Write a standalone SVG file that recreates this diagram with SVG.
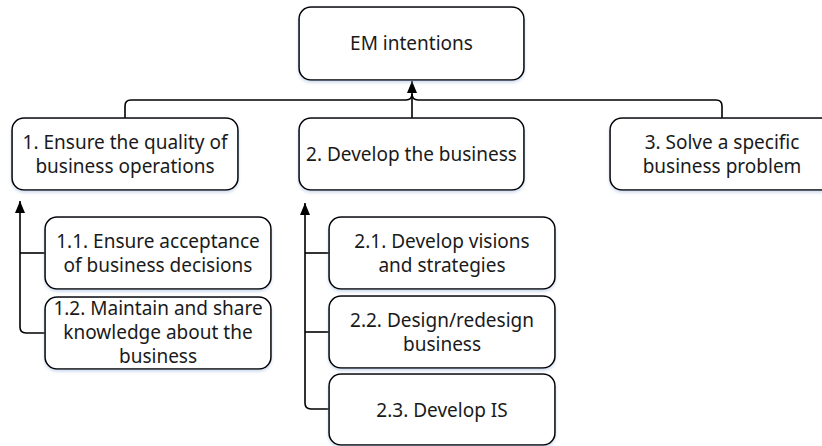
<svg xmlns="http://www.w3.org/2000/svg" width="822" height="446" viewBox="0 0 822 446">
<defs>
<filter id="sh" x="-10%" y="-10%" width="120%" height="130%">
<feDropShadow dx="0" dy="2" stdDeviation="1.5" flood-color="#9ab4d8" flood-opacity="0.45"/>
</filter>
<marker id="ah" viewBox="0 0 12 10" refX="12" refY="5" markerWidth="12" markerHeight="10" markerUnits="userSpaceOnUse" orient="auto">
<path d="M0,0 L12,5 L0,10 Z" fill="#000"/>
</marker>
</defs>
<style>
.box{fill:#fff;stroke:#000;stroke-width:1.6;filter:url(#sh)}
.t{font-family:"Noto Sans","Open Sans","DejaVu Sans",sans-serif;font-size:19px;fill:#1a1a1a;text-anchor:middle}
.c{fill:none;stroke:#000;stroke-width:1.6}
</style>
<rect width="822" height="446" fill="#fff"/>
<g id="connectors">
<path class="c" d="M125,118 V106 Q125,100 131,100 H406 Q412,100 412,94"/>
<path class="c" d="M722,118 V106 Q722,100 716,100 H418 Q412,100 412,94"/>
<path class="c" d="M412,118 V81" marker-end="url(#ah)"/>
<path class="c" d="M45,333 H26 Q20,333 20,327 V201" marker-end="url(#ah)"/>
<path class="c" d="M45,253 H20"/>
<path class="c" d="M329,409 H311 Q305,409 305,403 V203" marker-end="url(#ah)"/>
<path class="c" d="M329,253 H305"/>
<path class="c" d="M329,332 H305"/>
</g>
<g id="n0"><rect class="box" x="299" y="7" width="225" height="73" rx="12"/><text class="t" x="411.5" y="50">EM intentions</text></g>
<g id="n1"><rect class="box" x="12" y="118" width="226" height="72" rx="12"/><text class="t" x="125" y="149">1. Ensure the quality of</text><text class="t" x="125" y="173">business operations</text></g>
<g id="n2"><rect class="box" x="299" y="118" width="225" height="72" rx="12"/><text class="t" x="411.5" y="161">2. Develop the business</text></g>
<g id="n3"><rect class="box" x="610" y="118" width="225" height="72" rx="12"/><text class="t" x="722" y="149">3. Solve a specific</text><text class="t" x="722" y="173">business problem</text></g>
<g id="n11"><rect class="box" x="45" y="217" width="226" height="72" rx="12"/><text class="t" x="158" y="248">1.1. Ensure acceptance</text><text class="t" x="158" y="272">of business decisions</text></g>
<g id="n12"><rect class="box" x="45" y="297" width="226" height="72" rx="12"/><text class="t" x="158" y="315">1.2. Maintain and share</text><text class="t" x="158" y="339">knowledge about the</text><text class="t" x="158" y="363">business</text></g>
<g id="n21"><rect class="box" x="329" y="217" width="226" height="72" rx="12"/><text class="t" x="442" y="248">2.1. Develop visions</text><text class="t" x="442" y="272">and strategies</text></g>
<g id="n22"><rect class="box" x="329" y="296" width="226" height="72" rx="12"/><text class="t" x="442" y="327">2.2. Design/redesign</text><text class="t" x="442" y="351">business</text></g>
<g id="n23"><rect class="box" x="329" y="374" width="226" height="71" rx="12"/><text class="t" x="442" y="417">2.3. Develop IS</text></g>
</svg>
